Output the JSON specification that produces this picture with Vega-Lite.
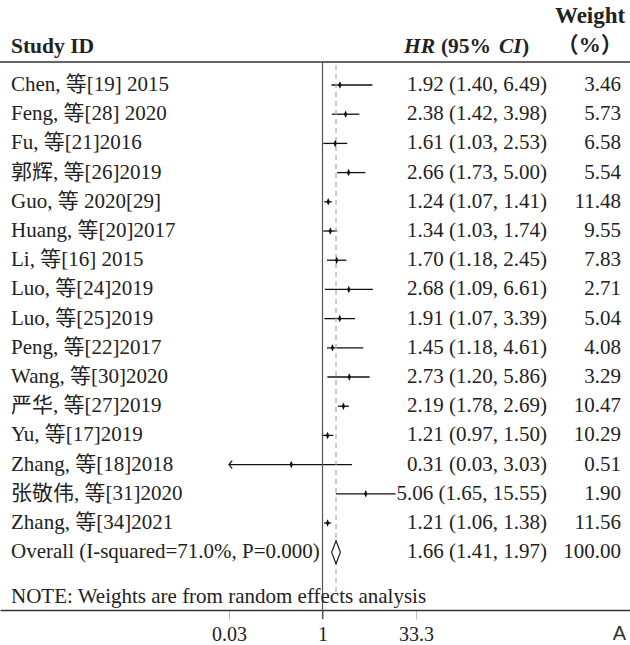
{
  "$schema": "https://vega.github.io/schema/vega-lite/v6.json",
  "width": 630,
  "height": 610,
  "autosize": "none",
  "padding": {"left": 0, "top": 0, "right": 0, "bottom": 35},
  "background": "white",
  "config": {
    "view": {"stroke": null},
    "text": {"font": "Liberation Serif, Noto Sans CJK SC", "fontSize": 21, "color": "#222"}
  },
  "resolve": {"axis": {"x": "independent", "y": "independent"}},
  "datasets": {
    "studies": [
      {"row": 1, "type": "study", "study": "Chen, 等[19] 2015", "hr": 1.92, "lo": 1.40, "hi": 6.49, "ci": "1.92 (1.40, 6.49)", "weight": 3.46},
      {"row": 2, "type": "study", "study": "Feng, 等[28] 2020", "hr": 2.38, "lo": 1.42, "hi": 3.98, "ci": "2.38 (1.42, 3.98)", "weight": 5.73},
      {"row": 3, "type": "study", "study": "Fu, 等[21]2016", "hr": 1.61, "lo": 1.03, "hi": 2.53, "ci": "1.61 (1.03, 2.53)", "weight": 6.58},
      {"row": 4, "type": "study", "study": "郭辉, 等[26]2019", "hr": 2.66, "lo": 1.73, "hi": 5.00, "ci": "2.66 (1.73, 5.00)", "weight": 5.54},
      {"row": 5, "type": "study", "study": "Guo, 等 2020[29]", "hr": 1.24, "lo": 1.07, "hi": 1.41, "ci": "1.24 (1.07, 1.41)", "weight": 11.48},
      {"row": 6, "type": "study", "study": "Huang, 等[20]2017", "hr": 1.34, "lo": 1.03, "hi": 1.74, "ci": "1.34 (1.03, 1.74)", "weight": 9.55},
      {"row": 7, "type": "study", "study": "Li, 等[16] 2015", "hr": 1.70, "lo": 1.18, "hi": 2.45, "ci": "1.70 (1.18, 2.45)", "weight": 7.83},
      {"row": 8, "type": "study", "study": "Luo, 等[24]2019", "hr": 2.68, "lo": 1.09, "hi": 6.61, "ci": "2.68 (1.09, 6.61)", "weight": 2.71},
      {"row": 9, "type": "study", "study": "Luo, 等[25]2019", "hr": 1.91, "lo": 1.07, "hi": 3.39, "ci": "1.91 (1.07, 3.39)", "weight": 5.04},
      {"row": 10, "type": "study", "study": "Peng, 等[22]2017", "hr": 1.45, "lo": 1.18, "hi": 4.61, "ci": "1.45 (1.18, 4.61)", "weight": 4.08},
      {"row": 11, "type": "study", "study": "Wang, 等[30]2020", "hr": 2.73, "lo": 1.20, "hi": 5.86, "ci": "2.73 (1.20, 5.86)", "weight": 3.29},
      {"row": 12, "type": "study", "study": "严华, 等[27]2019", "hr": 2.19, "lo": 1.78, "hi": 2.69, "ci": "2.19 (1.78, 2.69)", "weight": 10.47},
      {"row": 13, "type": "study", "study": "Yu, 等[17]2019", "hr": 1.21, "lo": 0.97, "hi": 1.50, "ci": "1.21 (0.97, 1.50)", "weight": 10.29},
      {"row": 14, "type": "study", "study": "Zhang, 等[18]2018", "hr": 0.31, "lo": 0.03, "hi": 3.03, "ci": "0.31 (0.03, 3.03)", "weight": 0.51},
      {"row": 15, "type": "study", "study": "张敬伟, 等[31]2020", "hr": 5.06, "lo": 1.65, "hi": 15.55, "ci": "5.06 (1.65, 15.55)", "weight": 1.90},
      {"row": 16, "type": "study", "study": "Zhang, 等[34]2021", "hr": 1.21, "lo": 1.06, "hi": 1.38, "ci": "1.21 (1.06, 1.38)", "weight": 11.56},
      {"row": 17, "type": "overall", "study": "Overall (I-squared=71.0%, P=0.000)", "hr": 1.66, "lo": 1.41, "hi": 1.97, "ci": "1.66 (1.41, 1.97)", "weight": 100.00}
    ]
  },
  "data": {"name": "studies"},
  "layer": [
    {
      "transform": [{"filter": "datum.type == 'study'"}],
      "mark": {"type": "rule", "color": "#111", "strokeWidth": 1.3},
      "encoding": {
        "x": {
          "field": "lo", "type": "quantitative",
          "scale": {"type": "log", "domain": [5.6e-6, 101700], "nice": false},
          "axis": {
            "values": [0.03, 1, 33.3], "format": "~g", "title": null, "grid": false,
            "domain": true, "ticks": true, "labels": true,
            "domainColor": "#333", "domainWidth": 1.5,
            "tickColor": "#bbb", "tickSize": 9, "tickWidth": 1,
            "labelFont": "Liberation Serif", "labelFontSize": 20, "labelColor": "#222",
            "labelPadding": 5, "labelFlush": false, "labelOverlap": false
          }
        },
        "x2": {"field": "hi"},
        "y": {
          "field": "row", "type": "quantitative",
          "scale": {"domain": [-1.911, 18.979], "reverse": true, "nice": false, "zero": false},
          "axis": null
        }
      }
    },
    {
      "data": {"values": [{}]},
      "mark": {"type": "rule", "color": "#333", "strokeWidth": 1.5},
      "encoding": {"y": {"datum": 0.212, "type": "quantitative", "axis": null}}
    },
    {
      "data": {"values": [{"ref": 1}]},
      "mark": {"type": "rule", "color": "#555", "strokeWidth": 1.2},
      "encoding": {
        "x": {"field": "ref", "type": "quantitative", "axis": null},
        "y": {"datum": 0.212, "type": "quantitative", "axis": null},
        "y2": {"datum": 19.288}
      }
    },
    {
      "transform": [{"filter": "datum.type == 'overall'"}],
      "mark": {"type": "rule", "color": "#aaa", "strokeWidth": 1.2, "strokeDash": [5, 4]},
      "encoding": {
        "x": {"field": "hr", "type": "quantitative", "axis": null},
        "y": {"datum": 0.315, "type": "quantitative", "axis": null},
        "y2": {"datum": 18.431}
      }
    },
    {
      "transform": [{"filter": "datum.type == 'study'"}],
      "mark": {"type": "point", "filled": true, "shape": "M0,-1L0.45,0L0,1L-0.45,0Z", "size": 56, "color": "#111", "opacity": 1},
      "encoding": {
        "x": {"field": "hr", "type": "quantitative", "axis": null},
        "y": {"field": "row", "type": "quantitative", "axis": null}
      }
    },
    {
      "transform": [{"filter": "datum.type == 'study' && datum.lo <= 0.03"}],
      "mark": {"type": "point", "filled": false, "shape": "M0.8,-1L0,0L0.8,1", "size": 64, "stroke": "#111", "strokeWidth": 1.2, "opacity": 1},
      "encoding": {
        "x": {"field": "lo", "type": "quantitative", "axis": null},
        "y": {"field": "row", "type": "quantitative", "axis": null}
      }
    },
    {
      "transform": [{"filter": "datum.type == 'overall'"}],
      "mark": {"type": "point", "shape": "M0,-1L0.38,0L0,1L-0.38,0Z", "size": 529, "fill": "white", "stroke": "#222", "strokeWidth": 1.2, "opacity": 1, "fillOpacity": 1},
      "encoding": {
        "x": {"field": "hr", "type": "quantitative", "axis": null},
        "y": {"field": "row", "type": "quantitative", "axis": null}
      }
    },
    {
      "mark": {"type": "text", "align": "left", "baseline": "middle"},
      "encoding": {
        "x": {"datum": 8.46e-6, "type": "quantitative", "axis": null},
        "y": {"field": "row", "type": "quantitative", "axis": null},
        "text": {"field": "study"}
      }
    },
    {
      "mark": {"type": "text", "align": "right", "baseline": "middle"},
      "encoding": {
        "x": {"datum": 4526, "type": "quantitative", "axis": null},
        "y": {"field": "row", "type": "quantitative", "axis": null},
        "text": {"field": "ci"}
      }
    },
    {
      "mark": {"type": "text", "align": "right", "baseline": "middle"},
      "encoding": {
        "x": {"datum": 72570, "type": "quantitative", "axis": null},
        "y": {"field": "row", "type": "quantitative", "axis": null},
        "text": {"field": "weight", "format": ".2f"}
      }
    },
    {
      "data": {"values": [{"label": "Study ID"}]},
      "mark": {"type": "text", "align": "left", "baseline": "middle", "fontWeight": "bold", "fontSize": 21.5},
      "encoding": {
        "x": {"datum": 8.46e-6, "type": "quantitative", "axis": null},
        "y": {"datum": -0.301, "type": "quantitative", "axis": null},
        "text": {"field": "label"}
      }
    },
    {
      "data": {"values": [{"label": "HR"}]},
      "mark": {"type": "text", "align": "left", "baseline": "middle", "fontWeight": "bold", "fontStyle": "italic", "fontSize": 21.5},
      "encoding": {
        "x": {"datum": 21.2, "type": "quantitative", "axis": null},
        "y": {"datum": -0.301, "type": "quantitative", "axis": null},
        "text": {"field": "label"}
      }
    },
    {
      "data": {"values": [{"label": "(95%"}]},
      "mark": {"type": "text", "align": "left", "baseline": "middle", "fontWeight": "bold", "fontSize": 21.5, "dx": 37},
      "encoding": {
        "x": {"datum": 21.2, "type": "quantitative", "axis": null},
        "y": {"datum": -0.301, "type": "quantitative", "axis": null},
        "text": {"field": "label"}
      }
    },
    {
      "data": {"values": [{"label": "CI"}]},
      "mark": {"type": "text", "align": "left", "baseline": "middle", "fontWeight": "bold", "fontStyle": "italic", "fontSize": 21.5, "dx": 95},
      "encoding": {
        "x": {"datum": 21.2, "type": "quantitative", "axis": null},
        "y": {"datum": -0.301, "type": "quantitative", "axis": null},
        "text": {"field": "label"}
      }
    },
    {
      "data": {"values": [{"label": ")"}]},
      "mark": {"type": "text", "align": "left", "baseline": "middle", "fontWeight": "bold", "fontSize": 21.5, "dx": 118},
      "encoding": {
        "x": {"datum": 21.2, "type": "quantitative", "axis": null},
        "y": {"datum": -0.301, "type": "quantitative", "axis": null},
        "text": {"field": "label"}
      }
    },
    {
      "data": {"values": [{"label": "Weight"}]},
      "mark": {"type": "text", "align": "right", "baseline": "middle", "fontWeight": "bold", "fontSize": 23},
      "encoding": {
        "x": {"datum": 85000, "type": "quantitative", "axis": null},
        "y": {"datum": -1.36, "type": "quantitative", "axis": null},
        "text": {"field": "label"}
      }
    },
    {
      "data": {"values": [{"label": "（%）"}]},
      "mark": {"type": "text", "align": "center", "baseline": "middle", "fontWeight": "bold", "fontSize": 22},
      "encoding": {
        "x": {"datum": 22500, "type": "quantitative", "axis": null},
        "y": {"datum": -0.37, "type": "quantitative", "axis": null},
        "text": {"field": "label"}
      }
    },
    {
      "data": {"values": [{"label": "NOTE: Weights are from random effects analysis"}]},
      "mark": {"type": "text", "align": "left", "baseline": "middle"},
      "encoding": {
        "x": {"datum": 8.46e-6, "type": "quantitative", "axis": null},
        "y": {"datum": 18.534, "type": "quantitative", "axis": null},
        "text": {"field": "label"}
      }
    },
    {
      "data": {"values": [{"label": "A"}]},
      "mark": {"type": "text", "align": "right", "baseline": "middle", "font": "Liberation Sans", "fontSize": 20, "color": "#333"},
      "encoding": {
        "x": {"datum": 87500, "type": "quantitative", "axis": null},
        "y": {"datum": 19.8, "type": "quantitative", "axis": null},
        "text": {"field": "label"}
      }
    }
  ]
}
